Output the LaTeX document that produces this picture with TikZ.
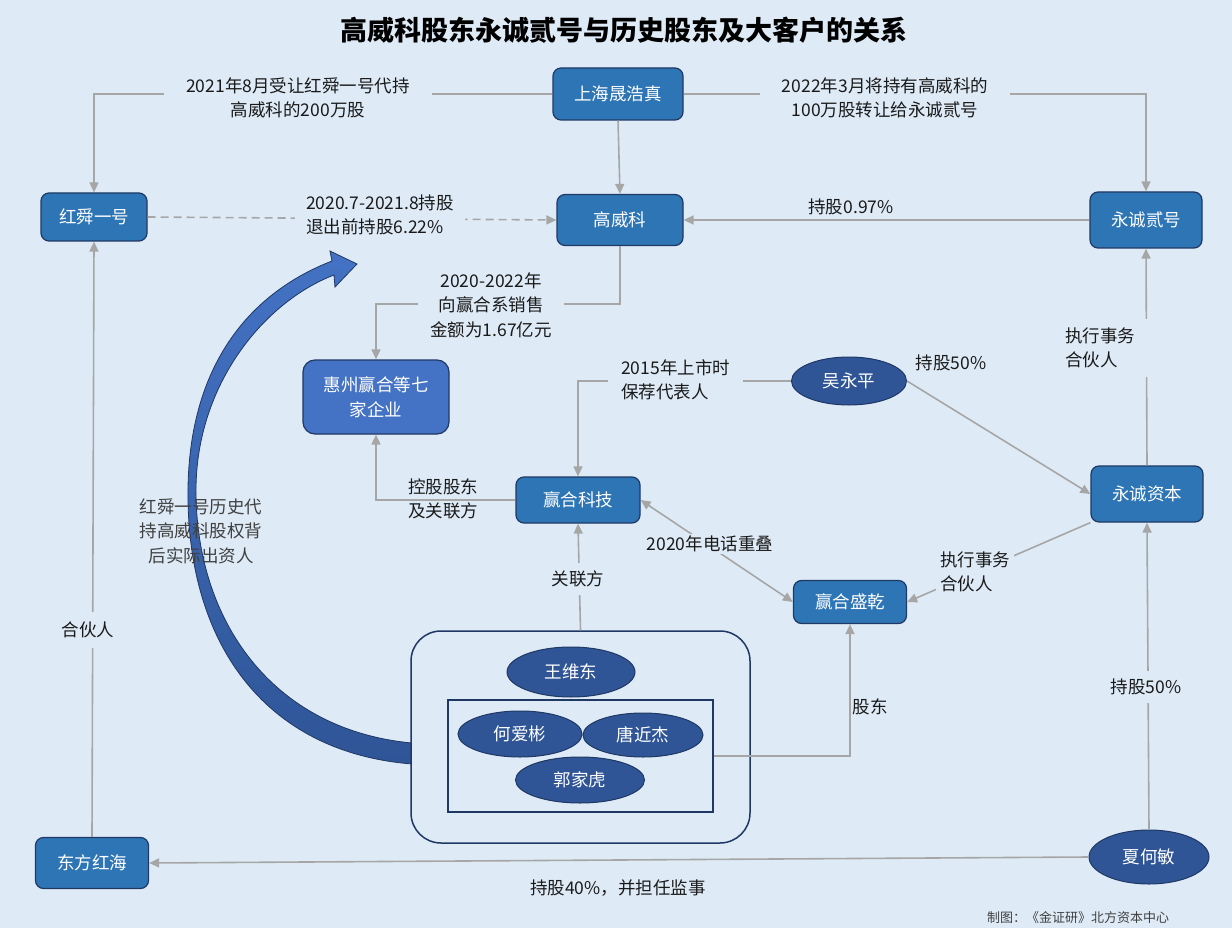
\documentclass[tikz,border=0pt]{standalone}
\usepackage{fontspec}
\setmainfont{Noto Sans CJK SC}
\usetikzlibrary{arrows.meta,shapes.geometric}
\definecolor{bg}{HTML}{DEEBF7}
\definecolor{bfill}{HTML}{2E75B6}
\definecolor{hzfill}{HTML}{4472C4}
\definecolor{efill}{HTML}{2F5597}
\definecolor{bdr}{HTML}{1F3864}
\definecolor{lgray}{HTML}{A6A6A6}
\definecolor{txt}{HTML}{1A1A1A}
\definecolor{txtg}{HTML}{404040}
\definecolor{arrtop}{HTML}{4472C4}
\definecolor{arrbot}{HTML}{2F5597}
\tikzset{
 box/.style={draw=bdr, fill=bfill, rounded corners=8pt, line width=1.2pt, text=white,
   font=\fontsize{17.5}{25}\selectfont, align=center, inner sep=0pt},
 pers/.style={ellipse, draw=bdr, fill=efill, line width=1pt, text=white,
   font=\fontsize{17.5}{25}\selectfont, inner sep=0pt},
 conn/.style={draw=lgray, line width=1.6pt, -{Triangle[length=10pt,width=9pt]}},
 lbl/.style={font=\fontsize{17.5}{24.5}\selectfont, text=txt, align=center, inner sep=3pt},
 gap/.style={lbl, fill=bg},
}
\begin{document}
\begin{tikzpicture}[x=1pt,y=-1pt]
\path[use as bounding box, fill=bg] (0,0) rectangle (1232,928);

% title
\node[font=\fontsize{27}{30}\selectfont\bfseries, text=black] (title) at (624,30) {高威科股东永诚贰号与历史股东及大客户的关系};

% big curved arrow
\path[draw=bdr, line width=0.8pt, top color=arrtop, bottom color=arrbot]
  (412,764) .. controls (262,752) and (186,640) .. (188,488)
  .. controls (190,362) and (252,292) .. (332,261)
  -- (330,251) -- (357,264) -- (335,287) -- (334,275)
  .. controls (264,302) and (197,384) .. (196,488)
  .. controls (195,620) and (272,730) .. (412,743) -- cycle;
\node[lbl, text=txtg] (lblarrow) at (201,531) {红舜一号历史代\\持高威科股权背\\后实际出资人};

% nodes
\node[box, minimum width=130, minimum height=52] (shz) at (618,94) {上海晟浩真};
\node[box, minimum width=126, minimum height=51] (gwk) at (620,220) {高威科};
\node[box, minimum width=106, minimum height=48] (hs1) at (94,217) {红舜一号};
\node[box, minimum width=112, minimum height=56] (ycer) at (1146,220) {永诚贰号};
\node[box, fill=hzfill, minimum width=146, minimum height=74, rounded corners=12pt] (hz) at (376,397) {惠州赢合等七\\家企业};
\node[pers, minimum width=115, minimum height=48] (wyp) at (849,381) {吴永平};
\node[box, minimum width=124, minimum height=46] (yhkj) at (578,500) {赢合科技};
\node[box, minimum width=112, minimum height=56] (yczb) at (1147,494) {永诚资本};
\node[box, minimum width=113, minimum height=43] (yhsq) at (850,602) {赢合盛乾};
\node[draw=bdr, line width=1.5pt, rounded corners=30pt, minimum width=339, minimum height=212, fill=bg] (grp) at (580.5,737) {};
\node[draw=bdr, line width=1.5pt, minimum width=265, minimum height=112] (inner) at (580.5,756) {};
\node[pers, minimum width=128, minimum height=50] (wwd) at (571,672) {王维东};
\node[pers, minimum width=124, minimum height=46] (hab) at (520,734) {何爱彬};
\node[pers, minimum width=120, minimum height=44] (tjj) at (643,735) {唐近杰};
\node[pers, minimum width=129, minimum height=46] (gjh) at (580,780) {郭家虎};
\node[box, minimum width=113, minimum height=51] (dfhh) at (92,863) {东方红海};
\node[pers, minimum width=120, minimum height=54] (xhm) at (1149,857) {夏何敏};

% connectors
\draw[conn] (shz.west) -| (hs1.north);
\draw[conn] (shz.east) -| (ycer.north);
\draw[conn] (shz.south) -- (gwk.north);
\draw[conn, dash pattern=on 8pt off 5pt] (hs1.east) -- (gwk.west);
\draw[conn] (ycer.west) -- (gwk.east);
\draw[conn] (gwk.south) -- ++(0,58) -| (hz.north);
\draw[conn] (wyp.west) -| (yhkj.north);
\draw[conn] (wyp.east) -- (yczb.west);
\draw[conn] (yczb.north) -- (ycer.south);
\draw[conn] (yczb.south west) -- (yhsq.east);
\draw[conn] (xhm.north) -- (yczb.south);
\draw[conn] (xhm.west) -- (dfhh.east);
\draw[conn] (dfhh.north) -- (hs1.south);
\draw[conn] (grp.north) -- (yhkj.south);
\draw[conn] (inner.east) -| (yhsq.south);
\draw[conn] (yhkj.west) -| (hz.south);
\draw[draw=lgray, line width=1.6pt, {Triangle[length=10pt,width=9pt]}-{Triangle[length=10pt,width=9pt]}] (yhkj.east) -- (yhsq.west);

% labels
\node[gap, inner xsep=22pt] (l1) at (298,98) {2021年8月受让红舜一号代持\\高威科的200万股};
\node[gap, inner xsep=22pt] (l2) at (885,98) {2022年3月将持有高威科的\\100万股转让给永诚贰号};
\node[gap, align=left, inner xsep=11pt] (l3) at (380,215) {2020.7-2021.8持股\\退出前持股6.22\%};
\node[lbl] (l4) at (851,207) {持股0.97\%};
\node[gap, inner xsep=12pt] (l5) at (491,305) {2020-2022年\\向赢合系销售\\金额为1.67亿元};
\node[gap, align=left, anchor=west, inner xsep=13pt] (l6) at (608,380) {2015年上市时\\保荐代表人};
\node[lbl] (l7) at (951,363) {持股50\%};
\node[gap, align=left, anchor=west, text width=82pt, inner xsep=4pt, inner ysep=9pt] (l8) at (1061,348) {执行事务\\合伙人};
\node[gap, align=left, anchor=west, inner xsep=4pt] (l9) at (936,572) {执行事务\\合伙人};
\node[gap, inner ysep=8pt] (l10) at (1146,687) {持股50\%};
\node[lbl] (l11) at (618,888) {持股40\%，并担任监事};
\node[gap, inner ysep=10pt] (l12) at (88,630) {合伙人};
\node[gap, inner ysep=8pt] (l13) at (578,579) {关联方};
\node[lbl] (l14) at (870,707) {股东};
\node[lbl] (l15) at (443,499) {控股股东\\及关联方};
\node[gap, inner sep=2pt] (l16) at (710,544) {2020年电话重叠};

% footer
\node[font=\fontsize{13}{15}\selectfont, text=txtg] (foot) at (1078,918) {制图：《金证研》北方资本中心};
\end{tikzpicture}
\end{document}
